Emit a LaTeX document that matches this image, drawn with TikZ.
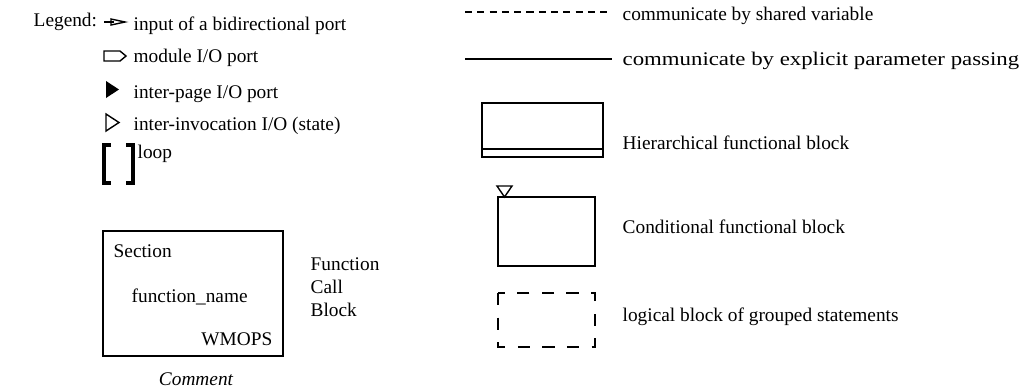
\documentclass[tikz,border=0pt]{standalone}
\usepackage{fontspec}
\setmainfont{Liberation Serif}
\usetikzlibrary{positioning}

\begin{document}
\begin{tikzpicture}[
    x=0.02cm,y=-0.02cm,line width=0.8pt,
    lbl/.style={anchor=base west,inner sep=0pt,font=\fontsize{11}{13}\selectfont},
    symb/.style={draw=black,line width=0.8pt},
    bracket/.style={draw=black,line width=1.8pt},
    shared/.style={draw=black,dash pattern=on 4pt off 3pt},
    grouped/.style={draw=black,dash pattern=on 7pt off 7pt}
  ]
    \useasboundingbox (0,0) rectangle (1028,390);
    % left column: port symbols
    \node[lbl] (legend) at (33,26) {Legend:};
    \draw[symb] (104,22) -- (114,22);
    \draw[symb] (111,19) -- (125,22) -- (111,25) -- cycle;
    \node[lbl] (bidir) at (133,30) {input of a bidirectional port};
    \draw[symb] (104,51) -- (120,51) -- (126,56) -- (120,61) -- (104,61) -- cycle;
    \node[lbl] (modport) at (133,62) {module I/O port};
    \fill (106,81) -- (119,89.5) -- (106,98) -- cycle;
    \node[lbl] (pageport) at (133,98) {inter-page I/O port};
    \draw[symb] (106,114) -- (119,122.5) -- (106,131) -- cycle;
    \node[lbl] (stateport) at (133,130) {inter-invocation I/O (state)};
    \draw[bracket] (111,145) -- (104,145) -- (104,183) -- (111,183);
    \draw[bracket] (126,145) -- (133,145) -- (133,183) -- (126,183);
    \node[lbl] (loop) at (137,158) {loop};
    % function call block
    \draw[symb] (103,231) rectangle (283,356);
    \node[lbl] (section) at (113,257) {Section};
    \node[lbl] (fname) at (131,302) {function\_name};
    \node[lbl,anchor=base east] (wmops) at (273,345) {WMOPS};
    \node[lbl,anchor=base] (comment) at (196,385) {\itshape Comment};
    \node[lbl,anchor=west,align=left] (fcb) at (310,287) {Function\\Call\\Block};
    % right column: connectors and blocks
    \draw[shared] (465,12) -- (612,12);
    \node[lbl] (sharedvar) at (622,20) {communicate by shared variable};
    \draw[symb] (465,59) -- (612,59);
    \node[lbl] (param) at (622,65) {\scalebox{1.18}[1]{communicate by explicit parameter passing}};
    \draw[symb] (482,103) rectangle (603,157);
    \draw[symb] (482,149) -- (603,149);
    \node[lbl] (hier) at (622,149) {Hierarchical functional block};
    \draw[symb] (497,186) -- (512,186) -- (504.5,197) -- cycle;
    \draw[symb] (498,197) rectangle (595,266);
    \node[lbl] (cond) at (622,233) {Conditional functional block};
    \draw[grouped] (498,293) rectangle (595,347);
    \node[lbl] (logic) at (622,321) {logical block of grouped statements};
  \end{tikzpicture}
\end{document}
